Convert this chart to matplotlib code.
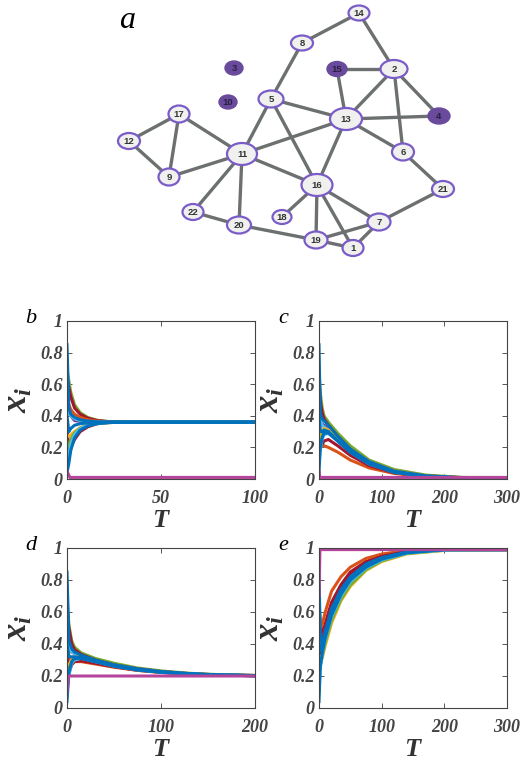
import matplotlib
matplotlib.use("Agg")
import matplotlib.pyplot as plt
from matplotlib.patches import Ellipse

plt.rcParams['font.family'] = ['Liberation Serif', 'DejaVu Serif']
plt.rcParams['mathtext.fontset'] = 'custom'
plt.rcParams['mathtext.it'] = 'Liberation Serif:italic:bold'
plt.rcParams['mathtext.rm'] = 'Liberation Serif:bold'

W, H = 521, 769

# -------- network (panel a) --------
node_ids = [1, 2, 3, 4, 5, 6, 7, 8, 9, 10, 11, 12, 13, 14, 15, 16, 17, 18, 19, 20, 21, 22]
node_x = [353, 394, 234, 439, 271, 403, 379, 302, 169, 228, 242, 129, 346, 359, 337, 317, 179, 282, 316, 239, 443, 193]
node_y = [248, 69, 68, 116, 99, 152, 222, 43, 177, 102, 154, 141, 119, 13, 69, 185, 114, 217, 240, 225, 189, 212]
node_w = [21, 27, 18, 22, 25, 22, 23, 22, 21, 18, 30, 22, 32, 21, 20, 31, 21, 19, 23, 24, 22, 21]
node_h = [16, 18, 14, 16, 17, 17, 17, 15, 17, 14, 22, 16, 22, 15, 15, 22, 17, 14, 17, 17, 16, 16]
pinned = [3, 4, 10, 15]
edges = [(14, 8), (14, 2), (8, 5), (15, 2), (15, 13), (2, 13), (2, 4), (2, 6),
         (5, 13), (5, 11), (5, 16), (13, 4), (13, 11), (13, 6), (13, 16),
         (17, 12), (17, 9), (17, 11), (12, 9), (9, 11), (11, 16), (11, 22),
         (11, 20), (6, 21), (21, 7), (16, 18), (16, 19), (16, 1), (16, 7),
         (22, 20), (20, 19), (19, 7), (19, 1), (7, 1)]

# -------- trajectories (panels b-e) --------
MB, MO, MY, MP, MG, ML, MR = '#0072BD', '#D95319', '#EDB120', '#7E2F8E', '#77AC30', '#4DBEEE', '#A2142F'
curve_colors = [MG, MR, MP, MO, ML, MR, MY, MG, ML, MB, MB, MB]
pin_color = '#B5449B'

# rows in order: start 0.69, 0.64, 0.55, 0.50, 0.45, 0.33, 0.28, 0.20, 0.10, 0.85, 0.40, 0.04
t_b = [0, 1, 2, 4, 7, 11, 16, 22, 30, 100]
x_b = [
    [0.69, 0.62, 0.55, 0.47, 0.42, 0.39, 0.372, 0.364, 0.361, 0.36],
    [0.64, 0.58, 0.52, 0.45, 0.41, 0.385, 0.37, 0.363, 0.36, 0.36],
    [0.55, 0.45, 0.40, 0.37, 0.365, 0.362, 0.36, 0.36, 0.36, 0.36],
    [0.50, 0.47, 0.44, 0.41, 0.39, 0.375, 0.366, 0.362, 0.36, 0.36],
    [0.45, 0.42, 0.40, 0.38, 0.37, 0.364, 0.361, 0.36, 0.36, 0.36],
    [0.33, 0.18, 0.20, 0.25, 0.30, 0.33, 0.35, 0.357, 0.36, 0.36],
    [0.28, 0.27, 0.28, 0.30, 0.325, 0.342, 0.352, 0.357, 0.36, 0.36],
    [0.20, 0.22, 0.25, 0.29, 0.32, 0.34, 0.352, 0.357, 0.36, 0.36],
    [0.10, 0.16, 0.22, 0.28, 0.32, 0.34, 0.352, 0.357, 0.36, 0.36],
    [0.85, 0.45, 0.41, 0.39, 0.375, 0.367, 0.362, 0.361, 0.36, 0.36],
    [0.40, 0.30, 0.32, 0.34, 0.35, 0.355, 0.358, 0.36, 0.36, 0.36],
    [0.04, 0.10, 0.18, 0.26, 0.31, 0.335, 0.35, 0.357, 0.36, 0.36],
]
pin_b = [0.05, 0.01, 0.01]

t_c = [0, 2, 5, 8, 15, 30, 50, 80, 120, 170, 230, 300]
x_c = [
    [0.69, 0.55, 0.45, 0.40, 0.36, 0.29, 0.21, 0.12, 0.06, 0.025, 0.01, 0.004],
    [0.64, 0.50, 0.42, 0.38, 0.34, 0.27, 0.19, 0.11, 0.05, 0.02, 0.008, 0.003],
    [0.55, 0.40, 0.35, 0.34, 0.32, 0.25, 0.18, 0.10, 0.045, 0.018, 0.007, 0.003],
    [0.50, 0.30, 0.22, 0.21, 0.20, 0.17, 0.12, 0.07, 0.035, 0.014, 0.005, 0.002],
    [0.45, 0.38, 0.34, 0.33, 0.31, 0.25, 0.17, 0.10, 0.045, 0.018, 0.007, 0.003],
    [0.33, 0.20, 0.22, 0.24, 0.25, 0.21, 0.15, 0.085, 0.04, 0.016, 0.006, 0.002],
    [0.28, 0.26, 0.30, 0.32, 0.31, 0.26, 0.19, 0.11, 0.05, 0.02, 0.008, 0.003],
    [0.20, 0.22, 0.27, 0.30, 0.30, 0.25, 0.18, 0.10, 0.047, 0.019, 0.007, 0.003],
    [0.10, 0.18, 0.25, 0.28, 0.29, 0.24, 0.17, 0.095, 0.043, 0.017, 0.006, 0.002],
    [0.85, 0.42, 0.38, 0.37, 0.34, 0.27, 0.19, 0.11, 0.05, 0.02, 0.008, 0.003],
    [0.40, 0.30, 0.30, 0.31, 0.30, 0.24, 0.17, 0.095, 0.042, 0.017, 0.006, 0.002],
    [0.04, 0.20, 0.26, 0.29, 0.29, 0.24, 0.17, 0.10, 0.045, 0.018, 0.007, 0.003],
]
pin_c = [0.05, 0.01, 0.01]

t_d = [0, 2, 5, 8, 15, 30, 50, 75, 100, 130, 160, 200]
x_d = [
    [0.69, 0.52, 0.42, 0.38, 0.345, 0.31, 0.28, 0.25, 0.232, 0.217, 0.209, 0.204],
    [0.64, 0.50, 0.40, 0.365, 0.335, 0.30, 0.27, 0.245, 0.228, 0.215, 0.207, 0.203],
    [0.55, 0.40, 0.35, 0.34, 0.325, 0.295, 0.265, 0.24, 0.225, 0.213, 0.206, 0.202],
    [0.50, 0.32, 0.29, 0.29, 0.29, 0.275, 0.255, 0.235, 0.222, 0.212, 0.206, 0.202],
    [0.45, 0.38, 0.35, 0.34, 0.325, 0.295, 0.265, 0.24, 0.225, 0.213, 0.206, 0.202],
    [0.33, 0.22, 0.27, 0.29, 0.295, 0.28, 0.258, 0.236, 0.223, 0.212, 0.206, 0.202],
    [0.28, 0.27, 0.30, 0.32, 0.32, 0.295, 0.268, 0.243, 0.227, 0.214, 0.207, 0.203],
    [0.20, 0.24, 0.29, 0.31, 0.315, 0.29, 0.265, 0.24, 0.225, 0.213, 0.206, 0.202],
    [0.10, 0.20, 0.28, 0.30, 0.31, 0.29, 0.262, 0.238, 0.224, 0.213, 0.206, 0.202],
    [0.85, 0.42, 0.37, 0.35, 0.33, 0.30, 0.27, 0.245, 0.228, 0.215, 0.207, 0.203],
    [0.40, 0.32, 0.32, 0.32, 0.315, 0.29, 0.262, 0.238, 0.224, 0.213, 0.206, 0.202],
    [0.04, 0.22, 0.29, 0.31, 0.31, 0.29, 0.264, 0.24, 0.225, 0.213, 0.206, 0.202],
]
pin_d = [0.1, 0.2, 0.2]

t_e = [0, 2, 5, 10, 20, 35, 50, 75, 100, 140, 200, 300]
x_e = [
    [0.69, 0.52, 0.42, 0.46, 0.60, 0.72, 0.81, 0.89, 0.935, 0.972, 0.99, 0.99],
    [0.64, 0.52, 0.46, 0.53, 0.66, 0.77, 0.85, 0.915, 0.95, 0.98, 0.99, 0.99],
    [0.55, 0.45, 0.42, 0.50, 0.64, 0.75, 0.83, 0.905, 0.945, 0.977, 0.99, 0.99],
    [0.50, 0.50, 0.52, 0.60, 0.73, 0.82, 0.88, 0.935, 0.962, 0.985, 0.99, 0.99],
    [0.45, 0.40, 0.40, 0.49, 0.63, 0.75, 0.83, 0.905, 0.945, 0.977, 0.99, 0.99],
    [0.33, 0.35, 0.40, 0.50, 0.645, 0.76, 0.84, 0.91, 0.948, 0.978, 0.99, 0.99],
    [0.28, 0.28, 0.31, 0.39, 0.53, 0.67, 0.76, 0.86, 0.915, 0.963, 0.985, 0.99],
    [0.20, 0.27, 0.32, 0.41, 0.55, 0.68, 0.77, 0.865, 0.92, 0.966, 0.986, 0.99],
    [0.10, 0.26, 0.33, 0.43, 0.57, 0.70, 0.79, 0.875, 0.925, 0.968, 0.987, 0.99],
    [0.85, 0.45, 0.40, 0.48, 0.62, 0.74, 0.82, 0.90, 0.94, 0.975, 0.99, 0.99],
    [0.40, 0.36, 0.38, 0.46, 0.60, 0.72, 0.81, 0.89, 0.935, 0.972, 0.99, 0.99],
    [0.04, 0.25, 0.34, 0.44, 0.58, 0.71, 0.80, 0.88, 0.93, 0.97, 0.99, 0.99],
]
pin_e = [0.7, 0.99, 0.99]

panels = [
    ('b', t_b, x_b, pin_b, [0, 50, 100], (67, 321, 255, 479)),
    ('c', t_c, x_c, pin_c, [0, 100, 200, 300], (319, 321, 507, 479)),
    ('d', t_d, x_d, pin_d, [0, 100, 200], (67, 548, 255, 708)),
    ('e', t_e, x_e, pin_e, [0, 100, 200, 300], (319, 548, 507, 708)),
]
y_ticks = [0, 0.2, 0.4, 0.6, 0.8, 1]
y_ticklabels = ['0', '0.2', '0.4', '0.6', '0.8', '1']

fig = plt.figure(figsize=(W / 100, H / 100), dpi=100)


def px_rect(l, t, r, b):
    return [l / W, 1 - b / H, (r - l) / W, (b - t) / H]


# -------- panel a --------
ax = fig.add_axes(px_rect(0, 0, W, 265))
ax.set_xlim(0, W)
ax.set_ylim(265, 0)
ax.axis('off')
pos = {n: (x, y) for n, x, y in zip(node_ids, node_x, node_y)}
for a, b in edges:
    ax.plot([pos[a][0], pos[b][0]], [pos[a][1], pos[b][1]], color='#6c7070',
            lw=2.4, solid_capstyle='butt', zorder=1)
for n, x, y, w, h in zip(node_ids, node_x, node_y, node_w, node_h):
    if n in pinned:
        ax.add_patch(Ellipse((x, y), w, h, facecolor='#6a4a9c', edgecolor='#6a4a9c',
                             lw=1.0, zorder=2))
        tc = '#2a2040'
    else:
        ax.add_patch(Ellipse((x, y), w, h, facecolor='#f0f0ee', edgecolor='#7a5cc8',
                             lw=1.6, zorder=2))
        tc = '#333333'
    ax.text(x, y + 0.5, str(n), ha='center', va='center', fontsize=6.8,
            family='Liberation Sans', weight='bold', color=tc, zorder=3)
ax.text(127, 20, 'a', fontsize=23, style='italic', ha='center', va='center')

# -------- panels b-e --------
for letter, t, xs, pin, xt, rect in panels:
    ax = fig.add_axes(px_rect(*rect))
    for row, c in zip(xs, curve_colors):
        ax.plot(t, row, color=c, lw=2.2)
    ax.plot([0, 1.5, t[-1]], pin, color=pin_color, lw=2.2)
    ax.set_xlim(0, t[-1])
    ax.set_ylim(0, 1)
    ax.set_xticks(xt)
    ax.set_yticks(y_ticks)
    ax.set_yticklabels(y_ticklabels)
    ax.tick_params(direction='in', length=3.5, width=0.7, colors='#555555',
                   top=True, right=True, labelsize=13)
    ax.tick_params(axis='x', pad=8)
    ax.tick_params(axis='y', pad=3)
    for lab in ax.get_xticklabels() + ax.get_yticklabels():
        lab.set_fontweight('bold')
        lab.set_fontstyle('italic')
        lab.set_color('#444444')
    for s in ax.spines.values():
        s.set_color('#444444')
        s.set_linewidth(0.8)
    ax.set_xlabel('$T$', fontsize=19, color='#333333', labelpad=2)
    ax.set_ylabel('$x_i$', fontsize=25, color='#333333', labelpad=4)
    fig.text((rect[0] - 36) / W, 1 - (rect[1] - 3) / H, letter, fontsize=16,
             style='italic', ha='center', va='center')

fig.savefig('out.png', dpi=100)
